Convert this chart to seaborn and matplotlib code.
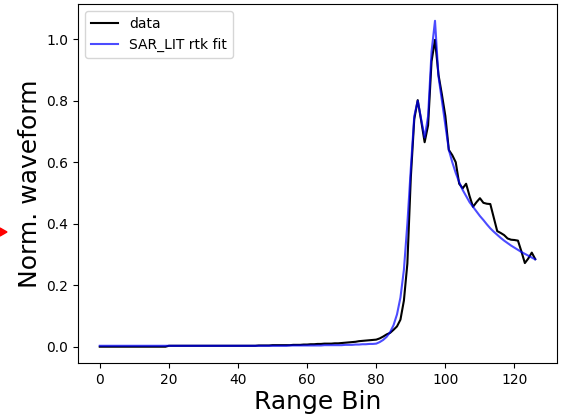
import numpy as np
import pandas as pd
import matplotlib
matplotlib.use("Agg")
import matplotlib.pyplot as plt
from matplotlib.patches import Polygon
import seaborn as sns

# Range bins 0..126
range_bin = list(range(127))

data_flat = [0.0] * 20 + [0.003] * 26 + [0.004, 0.004, 0.004, 0.004, 0.005, 0.005, 0.005, 0.005,
                                           0.005, 0.005, 0.006, 0.006, 0.006, 0.007, 0.007, 0.008,
                                           0.008, 0.009, 0.009, 0.010, 0.010, 0.010, 0.011, 0.011,
                                           0.012, 0.013, 0.014, 0.015, 0.016, 0.018, 0.019, 0.020,
                                           0.021, 0.022, 0.023]
data_peak = [0.027, 0.033, 0.040, 0.045, 0.055, 0.066, 0.088, 0.150, 0.270, 0.550,
             0.740, 0.802, 0.735, 0.665, 0.720, 0.928, 0.998, 0.885, 0.820, 0.750,
             0.640, 0.623, 0.600, 0.530, 0.515, 0.530, 0.490, 0.455, 0.470, 0.483,
             0.468, 0.465, 0.464, 0.420, 0.376, 0.370, 0.363, 0.352, 0.348, 0.347,
             0.345, 0.310, 0.272, 0.287, 0.306, 0.285]
data = data_flat + data_peak

fit_flat = [0.003] * 40 + [0.003, 0.003, 0.003, 0.003, 0.003, 0.003, 0.003, 0.003, 0.003, 0.003,
                           0.003, 0.003, 0.003, 0.003, 0.003, 0.004, 0.004, 0.004, 0.004, 0.004,
                           0.004, 0.004, 0.004, 0.004, 0.004, 0.005, 0.005, 0.005, 0.005, 0.005,
                           0.005, 0.006, 0.006, 0.006, 0.007, 0.007, 0.008, 0.008, 0.009, 0.009,
                           0.010]
fit_peak = [0.015, 0.022, 0.032, 0.047, 0.070, 0.105, 0.160, 0.250, 0.400, 0.580,
            0.750, 0.800, 0.740, 0.680, 0.750, 0.960, 1.060, 0.880, 0.800, 0.720,
            0.640, 0.600, 0.565, 0.535, 0.510, 0.490, 0.470, 0.455, 0.440, 0.425,
            0.412, 0.398, 0.385, 0.374, 0.364, 0.354, 0.345, 0.337, 0.329, 0.322,
            0.315, 0.308, 0.302, 0.296, 0.290, 0.284]
fit = fit_flat + fit_peak

df = pd.DataFrame({"bin": range_bin, "data": data, "fit": fit})

fig = plt.figure(figsize=(5.65, 4.19), dpi=100)
ax = fig.add_axes([78 / 565, 1 - 363 / 419, (557 - 78) / 565, (363 - 4.5) / 419])

sns.lineplot(data=df, x="bin", y="data", ax=ax, color="black", linewidth=1.5, label="data")
sns.lineplot(data=df, x="bin", y="fit", ax=ax, color="blue", alpha=0.7, linewidth=1.5,
             label="SAR_LIT rtk fit")

ax.set_xticks([0, 20, 40, 60, 80, 100, 120])
ax.set_yticks([0.0, 0.2, 0.4, 0.6, 0.8, 1.0])
ax.tick_params(labelsize=10)
ax.set_xlabel("Range Bin", fontsize=18, labelpad=2)
ax.set_ylabel("Norm. waveform", fontsize=18, labelpad=3)
ax.legend(loc="upper left", fontsize=10)

# red arrow head at left edge
tri = Polygon([[0, 1 - 228 / 419], [7 / 565, 1 - 232 / 419], [0, 1 - 236 / 419]],
              closed=True, transform=fig.transFigure, color="red")
fig.add_artist(tri)

fig.savefig("out.png", dpi=100)
